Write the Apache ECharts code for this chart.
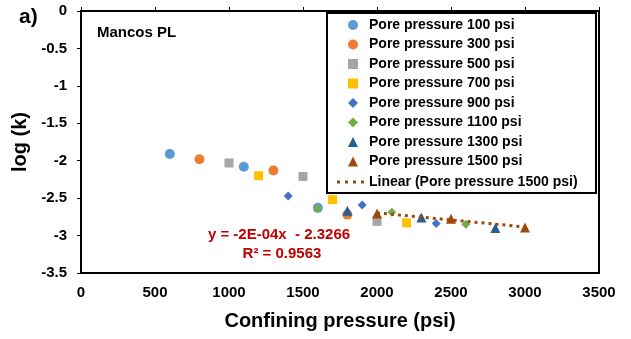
<!DOCTYPE html>
<html>
<head>
<meta charset="utf-8">
<script src="https://cdn.jsdelivr.net/npm/echarts@6/dist/echarts.min.js"></script>
<style>
  html, body { margin: 0; padding: 0; background: #fff; }
  #chart { width: 631px; height: 339px; }
</style>
</head>
<body>
<div id="chart"></div>
<script>
// 数据：每组孔压下的 [围压, log(k)]
var pp100 = [[600, -1.91], [1100, -2.08], [1600, -2.63]];
var pp300 = [[800, -1.98], [1300, -2.13], [1800, -2.72]];
var pp500 = [[1000, -2.03], [1500, -2.21], [2000, -2.81]];
var pp700 = [[1200, -2.20], [1700, -2.52], [2200, -2.83]];
var pp900 = [[1400, -2.47], [1900, -2.59], [2400, -2.84]];
var pp1100 = [[1600, -2.64], [2100, -2.69], [2600, -2.85]];
var pp1300 = [[1800, -2.67], [2300, -2.76], [2800, -2.90]];
var pp1500 = [[2000, -2.705], [2500, -2.775], [3000, -2.893]];
var seriesNames = ["Pore pressure 100 psi", "Pore pressure 300 psi", "Pore pressure 500 psi",
  "Pore pressure 700 psi", "Pore pressure 900 psi", "Pore pressure 1100 psi",
  "Pore pressure 1300 psi", "Pore pressure 1500 psi"];
var trendName = "Linear (Pore pressure 1500 psi)";
var xTicks = [0, 500, 1000, 1500, 2000, 2500, 3000, 3500];
var yTicks = [0, -0.5, -1, -1.5, -2, -2.5, -3, -3.5];

var colors = ["#5B9BD5", "#ED7D31", "#A5A5A5", "#FFC000", "#4472C4", "#70AD47", "#255E91", "#9E480E"];
var symbols = ["circle", "circle", "rect", "rect", "diamond", "diamond", "triangle", "triangle"];
var sizes = [10, 10, 9, 9, 9, 9, 10, 10];
var datas = [pp100, pp300, pp500, pp700, pp900, pp1100, pp1300, pp1500];

// 1500 psi 线性拟合
function fit(pts) {
  var n = pts.length, sx = 0, sy = 0, sxx = 0, sxy = 0;
  pts.forEach(function (p) { sx += p[0]; sy += p[1]; sxx += p[0] * p[0]; sxy += p[0] * p[1]; });
  var b = (n * sxy - sx * sy) / (n * sxx - sx * sx);
  var a = (sy - b * sx) / n;
  var x0 = pts[0][0], x1 = pts[n - 1][0];
  return [[x0, a + b * x0], [x1, a + b * x1]];
}

var font = "Arial, 'Liberation Sans', sans-serif";
var trendColor = "#9E480E";
var chart = echarts.init(document.getElementById("chart"));

var series = seriesNames.map(function (name, i) {
  return {
    name: name,
    type: "scatter",
    symbol: symbols[i],
    symbolSize: sizes[i],
    itemStyle: { color: colors[i], opacity: 1 },
    data: datas[i],
    z: 3
  };
});
series.push({
  name: trendName,
  type: "line",
  symbol: "none",
  data: fit(pp1500),
  lineStyle: { color: trendColor, width: 3, type: [3, 4] },
  itemStyle: { color: trendColor },
  z: 4
});

chart.setOption({
  animation: false,
  grid: { left: 81, right: 32, top: 11, bottom: 66, show: true, borderColor: "#000", borderWidth: 2, backgroundColor: "transparent" },
  xAxis: {
    type: "value",
    min: 0, max: 3500, interval: 500,
    name: "Confining pressure (psi)",
    nameLocation: "middle",
    nameGap: 38,
    nameTextStyle: { fontFamily: font, fontWeight: "bold", fontSize: 20, color: "#000" },
    axisLine: { show: true, lineStyle: { color: "#000", width: 2 } },
    axisTick: { show: true, inside: true, length: 4, lineStyle: { color: "#000" } },
    axisLabel: { fontFamily: font, fontWeight: "bold", fontSize: 15, color: "#000", margin: 12, formatter: function (v) { return String(v); } },
    splitLine: { show: false }
  },
  yAxis: {
    type: "value",
    min: -3.5, max: 0, interval: 0.5,
    name: "log (k)",
    nameLocation: "middle",
    nameGap: 47,
    nameTextStyle: { fontFamily: font, fontWeight: "bold", fontSize: 20, color: "#000" },
    axisLine: { show: true, lineStyle: { color: "#000", width: 2 } },
    axisTick: { show: true, length: 4, lineStyle: { color: "#000" } },
    axisLabel: { fontFamily: font, fontWeight: "bold", fontSize: 15, color: "#000", margin: 14, formatter: function (v) { return String(v); } },
    splitLine: { show: false }
  },
  legend: [
    {
      orient: "vertical",
      left: 348, top: 18,
      itemWidth: 10, itemHeight: 10,
      itemGap: 5.5,
      padding: 0,
      textStyle: { fontFamily: font, fontWeight: "bold", fontSize: 14, color: "#000", padding: [0, 0, 0, 6] },
      data: seriesNames.map(function (n, i) {
        return { name: n, icon: symbols[i], itemStyle: { color: colors[i] } };
      })
    },
    {
      orient: "vertical",
      left: 337, top: 175,
      itemWidth: 27, itemHeight: 3,
      padding: 0,
      textStyle: { fontFamily: font, fontWeight: "bold", fontSize: 14, color: "#000" },
      data: [{ name: trendName, icon: "path://M0,0h3v3h-3z M8,0h3v3h-3z M16,0h3v3h-3z M24,0h3v3h-3z", itemStyle: { color: trendColor } }]
    }
  ],
  graphic: [
    { type: "rect", shape: { x: 327, y: 13, width: 269, height: 180 }, style: { fill: "#fff", stroke: "#000", lineWidth: 2 }, z: 1 },
    { type: "text", left: 19, top: 7, style: { text: "a)", fontFamily: font, fontWeight: "bold", fontSize: 21, fill: "#000" } },
    { type: "text", left: 97, top: 25, style: { text: "Mancos PL", fontFamily: font, fontWeight: "bold", fontSize: 15, fill: "#000" } },
    { type: "text", x: 279, y: 235, style: { text: "y = -2E-04x  - 2.3266", fontFamily: font, fontWeight: "bold", fontSize: 15, fill: "#C00000", align: "center", verticalAlign: "middle" } },
    { type: "text", x: 282, y: 254, style: { text: "R² = 0.9563", fontFamily: font, fontWeight: "bold", fontSize: 15, fill: "#C00000", align: "center", verticalAlign: "middle" } }
  ],
  series: series
});
</script>
</body>
</html>
